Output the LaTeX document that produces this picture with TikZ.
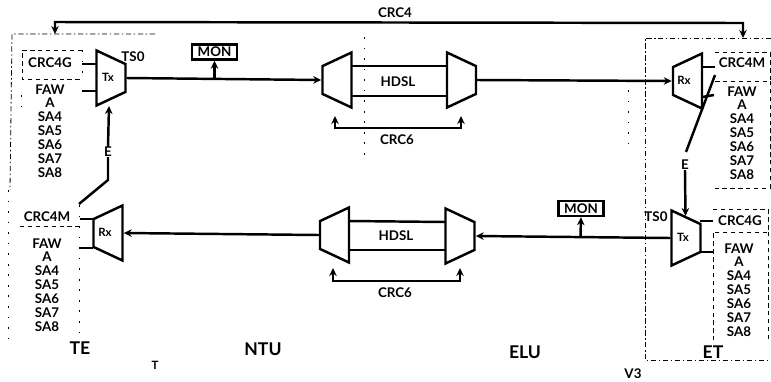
\documentclass[tikz,border=0pt]{standalone}
\usepackage{fontspec}
\setmainfont{Lato}
\usetikzlibrary{arrows.meta,positioning,shapes.geometric}
\tikzset{
  >={Stealth[length=1.6mm,width=1.5mm]},
  muxr/.style   ={draw,line width=1.4pt,trapezium,trapezium stretches=true,
                  shape border rotate=270,trapezium angle=64,inner sep=1pt,
                  minimum width=55*0.2mm,minimum height=29*0.2mm,fill=white},
  muxl/.style   ={muxr,shape border rotate=90},
  lbl/.style    ={font=\fontsize{7.6}{7.9}\selectfont\bfseries,inner sep=0pt,align=center},
  lblbig/.style ={font=\fontsize{10}{10}\selectfont\bfseries,inner sep=0pt},
  lblsm/.style  ={font=\fontsize{6.5}{7}\selectfont\bfseries,inner sep=0pt},
  monbox/.style ={draw,line width=1.4pt,font=\fontsize{7.6}{8}\selectfont\bfseries,
                  minimum width=45*0.2mm,minimum height=15*0.2mm,inner sep=0pt},
  flow/.style   ={draw,line width=1.4pt},
  thin flow/.style={draw,line width=1pt},
  frame/.style  ={draw,line width=.45pt,dash pattern=on 3pt off 1.5pt on .8pt off 1.5pt},
  dots/.style   ={draw,line width=.5pt,dash pattern=on 1pt off 5pt},
  inbox/.style  ={draw,line width=.4pt,dash pattern=on 2.5pt off 2pt},
}
\begin{document}
\begin{tikzpicture}[x=0.2mm,y=-0.2mm]
\useasboundingbox (0,0) rectangle (771,381);
% upper path
\node[muxr] (txa) at (111,78) {};
\node[lblsm] at (108,77) {Tx};
\node[muxl] (hla) at (337,80) {};
\node[muxr] (hra) at (461.5,80) {};
\node[muxl] (rxa) at (687.5,81) {};
\node[lblsm] at (684,80) {Rx};
\node[monbox] (mona) at (214.5,52) {MON};
\node[lbl] (hdsla) at (398,82) {HDSL};
\node[lbl] (tsa) at (133,57) {TS0};
% lower path
\node[muxl] (rxb) at (108,233) {};
\node[lblsm] at (105,232) {Rx};
\node[muxl] (hlb) at (334.5,235) {};
\node[muxr] (hrb) at (460,236) {};
\node[muxr] (txb) at (686,238) {};
\node[lblsm] at (683,237) {Tx};
\node[monbox] (monb) at (581,208.5) {MON};
\node[lbl] (hdslb) at (396,236) {HDSL};
\node[lbl] (tsb) at (656,217) {TS0};
% signal lists
\node[lbl] (ga) at (50,63) {CRC4G};
\node[lbl,anchor=north] (lista) at (50,84) {FAW\\A\\SA4\\SA5\\SA6\\SA7\\SA8};
\node[lbl] (ma) at (47,217) {CRC4M};
\node[lbl,anchor=north] (listb) at (47,238) {FAW\\A\\SA4\\SA5\\SA6\\SA7\\SA8};
\node[lbl] (mc) at (742,63) {CRC4M};
\node[lbl,anchor=north] (listc) at (742,86) {FAW\\A\\SA4\\SA5\\SA6\\SA7\\SA8};
\node[lbl] (gb) at (740,221) {CRC4G};
\node[lbl,anchor=north] (listd) at (739,243) {FAW\\A\\SA4\\SA5\\SA6\\SA7\\SA8};
% texts
\node[lbl] (crcf) at (395,13) {CRC4};
\node[lbl] (crca) at (397,140) {CRC6};
\node[lbl] (crcb) at (395,293) {CRC6};
\node[lbl] (ea) at (108,152) {E};
\node[lbl] (eb) at (685,165) {E};
\node[lblbig] (te) at (80,348) {TE};
\node[lblbig] (ntu) at (263,349) {NTU};
\node[lblbig] (elu) at (525,352) {ELU};
\node[lblbig] (et) at (713,352) {ET};
\node[lblsm] (t) at (155,365) {T};
\node[lbl] (vt) at (633,374) {V3};
% free ends
\coordinate (ctop) at (55,22);
\coordinate (ctopr) at (743,23);
\coordinate (ctip) at (55,34);
\coordinate (ctipr) at (743,38);
\coordinate (ebend) at (108,180);
\coordinate (efoot) at (79,204);
\coordinate (etip) at (109,106);
\coordinate (rfoot) at (715,75);
\coordinate (rend) at (686,152);
\coordinate (rtip) at (685.5,216);
% CRC4
\draw[flow,<->] (ctip) -- (ctop) -- (ctopr) -- (ctipr);
% main lines
\draw[flow,->] (txa.east) -- (hla.west);
\draw[flow,->] (214.5,79) -- (mona.south);
\draw[flow,->] (hra.east) -- (rxa.west);
\draw[flow,->] (txb.west) -- (hrb.east);
\draw[flow,->] (580.5,236.5) -- (monb.south);
\draw[flow,->] (hlb.west) -- (rxb.east);
% HDSL pairs
\draw[flow] (351,66) -- (447,66);
\draw[flow] (351,96) -- (447,96);
\draw[flow] (349,221) -- (446,222);
\draw[flow] (349,250) -- (446,250);
% CRC6
\draw[thin flow,<->] (335,116) -- (335,128) -- (461,128) -- (461,116);
\draw[thin flow,<->] (333,268) -- (333,281) -- (460,281) -- (460,268);
% E
\draw[flow,->] (ea.north) -- (etip);
\draw[flow] (ea.south) -- (ebend) -- (efoot);
\draw[flow] (rfoot) -- (rend);
\draw[flow,->] (eb.south) -- (rtip);
% inputs
\draw[flow] (82,64) -- (97,64);
\draw[flow] (82,91) -- (97,91);
\draw[flow] (80,219) -- (93,219);
\draw[flow] (80,248) -- (93,248);
\draw[flow] (702,67) -- (715,67);
\draw[flow] (702,97) -- (714,95);
\draw[flow] (700,221) -- (713,221);
\draw[flow] (700,252) -- (713,252);
% frames
\draw[frame] (155,34) -- (12,34) -- (10,190);
\draw[dots] (8,190) -- (8,340);
\draw[frame] (771,38) -- (645,38) -- (645,360) -- (771,360);
\draw[dots] (364,37) -- (364,155);
\draw[dots] (628,90) -- (628,152);
\draw[inbox] (82,50) -- (22,50) -- (22,79) -- (82,79);
\draw[dots] (82,50) -- (82,79);
\draw[dots] (21,95) -- (21,115);
\draw[inbox] (20,226) -- (80,226);
\draw[dots] (79,205) -- (79,340);
\draw[inbox] (715,52) -- (770,52) -- (770,81) -- (715,81);
\draw[inbox] (770,81) -- (770,188) -- (715,188);
\draw[inbox] (713,209) -- (768,209) -- (768,232) -- (713,232) -- (713,340);
\draw[inbox] (768,232) -- (768,340);
\end{tikzpicture}
\end{document}
